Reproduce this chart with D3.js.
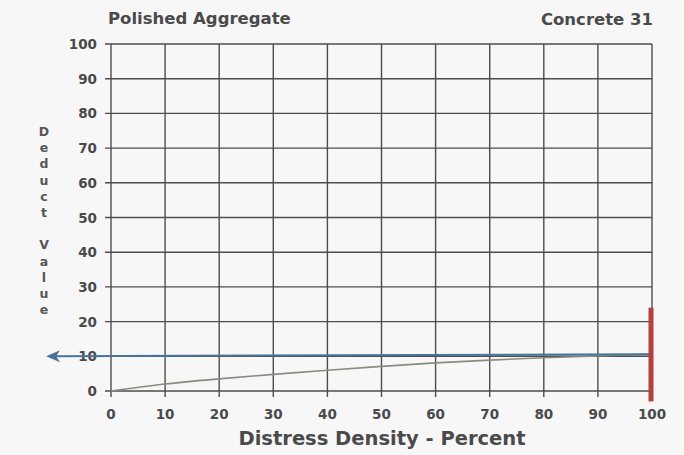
<!DOCTYPE html>
<html><head><meta charset="utf-8">
<script src="https://cdn.jsdelivr.net/npm/d3@7"></script>
<style>
html,body{margin:0;padding:0;background:#f6f6f6;}
svg{display:block;font-family:"DejaVu Sans",Arial,sans-serif;}
</style></head>
<body>
<script>
// Data
const xTicks = [0,10,20,30,40,50,60,70,80,90,100];
const yTicks = [0,10,20,30,40,50,60,70,80,90,100];
const curveX = [0,10,20,30,40,50,60,70,80,90,100];
const curveY = [0,2.0,3.5,4.8,6.0,7.1,8.1,8.9,9.6,10.1,10.6];
const readX = [-12,100];
const readY = [10,10.6];
const barX = 100;
const barRange = [-3,24];
const titleLeft = "Polished Aggregate";
const titleRight = "Concrete 31";
const xLabel = "Distress Density - Percent";
const yLabel = "Deduct Value";

const W=684,H=455;
const svg=d3.select("body").append("svg").attr("width",W).attr("height",H);
svg.append("rect").attr("width",W).attr("height",H).attr("fill","#f7f7f7");

const x=d3.scaleLinear().domain([0,100]).range([111,652]);
const y=d3.scaleLinear().domain([0,100]).range([391,44]);
const grid="#4d4d4d";
const txt="#4a4a4a";

// gridlines
svg.append("g").selectAll("line").data(xTicks).join("line")
  .attr("x1",d=>x(d)).attr("x2",d=>x(d)).attr("y1",y(100)).attr("y2",y(0)+6)
  .attr("stroke",grid).attr("stroke-width",1.4);
svg.append("g").selectAll("line").data(yTicks).join("line")
  .attr("x1",x(0)-6).attr("x2",x(100)).attr("y1",d=>y(d)).attr("y2",d=>y(d))
  .attr("stroke",grid).attr("stroke-width",1.4);

// tick labels
svg.append("g").selectAll("text").data(xTicks).join("text")
  .attr("x",d=>x(d)).attr("y",y(0)+28).attr("text-anchor","middle")
  .attr("font-size",13.5).attr("font-weight","bold").attr("fill",txt).text(d=>d);
svg.append("g").selectAll("text").data(yTicks).join("text")
  .attr("x",x(0)-14).attr("y",d=>y(d)+5).attr("text-anchor","end")
  .attr("font-size",13.5).attr("font-weight","bold").attr("fill",txt).text(d=>d);

// curve
svg.append("path").datum(curveX.map((d,i)=>[d,curveY[i]]))
  .attr("d",d3.line().x(d=>x(d[0])).y(d=>y(d[1])).curve(d3.curveMonotoneX))
  .attr("fill","none").attr("stroke","#8a8a80").attr("stroke-width",1.6);

// reading line with arrow
const ax=x(readX[0]), ay=y(readY[0]);
svg.append("line").attr("x1",ax+6).attr("x2",x(readX[1]))
  .attr("y1",ay).attr("y2",y(readY[1]))
  .attr("stroke","#4a7397").attr("stroke-width",2);
svg.append("path")
  .attr("d",`M${ax},${ay} L${ax+14},${ay-6} L${ax+10},${ay} L${ax+14},${ay+6} Z`)
  .attr("fill","#4a7397");

// red bar
svg.append("line").attr("x1",x(barX)-1).attr("x2",x(barX)-1)
  .attr("y1",y(barRange[0])).attr("y2",y(barRange[1]))
  .attr("stroke","#b5403f").attr("stroke-width",5);

// titles
svg.append("text").attr("x",108).attr("y",24).attr("font-size",16.5).attr("font-weight","bold")
  .attr("fill",txt).text(titleLeft);
svg.append("text").attr("x",653).attr("y",25).attr("text-anchor","end").attr("font-size",16.5)
  .attr("font-weight","bold").attr("fill",txt).text(titleRight);
svg.append("text").attr("x",382).attr("y",445).attr("text-anchor","middle").attr("font-size",19.5)
  .attr("font-weight","bold").attr("fill",txt).text(xLabel);

// vertical stacked y label
const letters = yLabel.split("");
svg.append("g").selectAll("text").data(letters).join("text")
  .attr("x",44).attr("y",(d,i)=>136+i*16.2).attr("text-anchor","middle")
  .attr("font-size",12.5).attr("font-weight","bold").attr("fill","#555").text(d=>d===" "?"":d);
</script>
</body></html>
